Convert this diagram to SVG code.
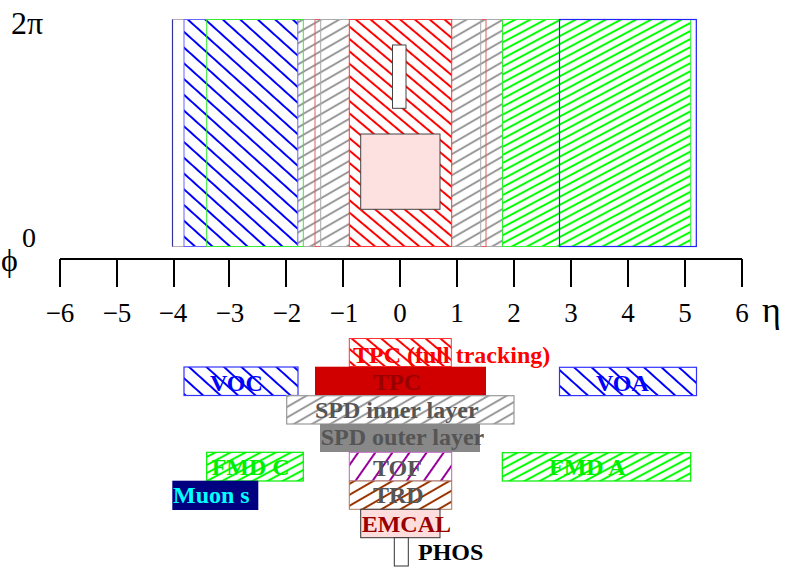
<svg xmlns="http://www.w3.org/2000/svg" width="789" height="568" viewBox="0 0 789 568">
<style>
text{font-family:"Liberation Serif","Times New Roman",serif}
.lbl{font-weight:bold;font-size:24px}
.tick{font-size:27px;text-anchor:middle}
.ax{stroke:#000;stroke-width:2;fill:none}
.wh{fill:#fff}
</style>
<defs>
<pattern id="hBlue" width="20" height="11.7" patternUnits="userSpaceOnUse" patternTransform="rotate(42)"><line x1="-1" y1="5.85" x2="21" y2="5.85" stroke="#0000ff" stroke-width="2"/></pattern>
<pattern id="hRed" width="20" height="9.5" patternUnits="userSpaceOnUse" patternTransform="rotate(40)"><line x1="-1" y1="4.75" x2="21" y2="4.75" stroke="#ff0000" stroke-width="2"/></pattern>
<pattern id="hGray" width="20" height="9.1" patternUnits="userSpaceOnUse" patternTransform="rotate(-30)"><line x1="-1" y1="4.55" x2="21" y2="4.55" stroke="#999999" stroke-width="2"/></pattern>
<pattern id="hGreen" width="20" height="7.1" patternUnits="userSpaceOnUse" patternTransform="rotate(-28)"><line x1="-1" y1="3.55" x2="21" y2="3.55" stroke="#00ff00" stroke-width="2"/></pattern>
<pattern id="hPurple" width="20" height="14" patternUnits="userSpaceOnUse" patternTransform="rotate(-55)"><line x1="-1" y1="7" x2="21" y2="7" stroke="#990099" stroke-width="2"/></pattern>
<pattern id="hBrown" width="20" height="9.5" patternUnits="userSpaceOnUse" patternTransform="rotate(-30)"><line x1="-1" y1="4.75" x2="21" y2="4.75" stroke="#993300" stroke-width="2"/></pattern>
</defs>

<g id="acceptance-map">
<rect x="172.5" y="19.5" width="524" height="227" fill="none" stroke="#b8aab8" stroke-width="1"/>
<line x1="172.5" y1="19.5" x2="172.5" y2="246.5" stroke="#333399" stroke-width="1.2"/>
<g id="map-spd-inner"><rect x="286.5" y="19.5" width="227.5" height="227" class="wh"/><rect x="286.5" y="19.5" width="227.5" height="227" fill="url(#hGray)" stroke="#aaaaaa" stroke-width="1"/></g>
<g id="map-tpc"><rect x="315" y="19.5" width="171" height="227" fill="none" stroke="#e06060" stroke-width="1"/></g>
<g id="map-spd-outer"><rect x="320.7" y="19.5" width="160" height="227" fill="none" stroke="#aaaaaa" stroke-width="1"/></g>
<g id="map-tpc-full"><rect x="349.3" y="19.5" width="102.4" height="227" class="wh"/><rect x="349.3" y="19.5" width="102.4" height="227" fill="url(#hRed)" stroke="#ff3333" stroke-width="1"/></g>
<g id="map-voc"><rect x="184" y="19.5" width="113.8" height="227" class="wh"/><rect x="184" y="19.5" width="113.8" height="227" fill="url(#hBlue)" stroke="#6666ff" stroke-width="1"/></g>
<g id="map-fmdc"><rect x="206.7" y="19.5" width="96.6" height="227" fill="none" stroke="#33ee33" stroke-width="1"/></g>
<g id="map-fmda"><rect x="502.5" y="19.5" width="188.2" height="227" class="wh"/><rect x="502.5" y="19.5" width="188.2" height="227" fill="url(#hGreen)" stroke="#33ee33" stroke-width="1"/></g>
<g id="map-voa"><rect x="559.5" y="19.5" width="136.8" height="227" fill="none" stroke="#2222ff" stroke-width="1.2"/></g>
<g id="map-emcal"><rect x="360.7" y="134" width="79.3" height="75.3" fill="#fde0e0" stroke="#444" stroke-width="1"/></g>
<g id="map-phos"><rect x="392.5" y="45" width="13.5" height="63.3" fill="#fff" stroke="#444" stroke-width="1"/></g>
</g>

<g id="axis-labels">
<text x="11" y="34" style="font-size:32px">2π</text>
<text x="22" y="247" style="font-size:28px">0</text>
<text x="1" y="271" style="font-size:32px">ϕ</text>
<text x="762" y="322" style="font-size:36px">η</text>
</g>

<g id="connectors">
<path class="ax" d="M60,259H742M60,259V287M117,259V287M174,259V287M229,259V287M286,259V287M343,259V287M400,259V287M457,259V287M514,259V287M571,259V287M628,259V287M685,259V287M742,259V287"/>
</g>
<g id="tick-labels">
<text class="tick" x="60" y="322">−6</text>
<text class="tick" x="117" y="322">−5</text>
<text class="tick" x="173" y="322">−4</text>
<text class="tick" x="230" y="322">−3</text>
<text class="tick" x="287" y="322">−2</text>
<text class="tick" x="344" y="322">−1</text>
<text class="tick" x="400" y="322">0</text>
<text class="tick" x="457" y="322">1</text>
<text class="tick" x="514" y="322">2</text>
<text class="tick" x="571" y="322">3</text>
<text class="tick" x="628" y="322">4</text>
<text class="tick" x="685" y="322">5</text>
<text class="tick" x="742" y="322">6</text>
</g>

<g id="tpc-full-tracking"><rect x="349.3" y="338.5" width="102" height="28" class="wh"/><rect x="349.3" y="338.5" width="102" height="28" fill="url(#hRed)" stroke="#ff3333" stroke-width="1"/><text class="lbl" x="353" y="363" fill="#ff0000">TPC (full tracking)</text></g>
<g id="tpc"><rect x="315" y="366.7" width="171" height="28.5" fill="#d00000"/><text class="lbl" x="373" y="389.5" fill="#990000">TPC</text></g>
<g id="voc"><rect x="184" y="367" width="114" height="28.5" class="wh"/><rect x="184" y="367" width="114" height="28.5" fill="url(#hBlue)" stroke="#3333ff" stroke-width="1.2"/><text class="lbl" x="210" y="390.5" fill="#0000ff">VOC</text></g>
<g id="voa"><rect x="559.5" y="367.3" width="137" height="28.3" class="wh"/><rect x="559.5" y="367.3" width="137" height="28.3" fill="url(#hBlue)" stroke="#3333ff" stroke-width="1.2"/><text class="lbl" x="596" y="390.5" fill="#0000ff">VOA</text></g>
<g id="spd-inner"><rect x="286.7" y="395.7" width="227.3" height="28.3" class="wh"/><rect x="286.7" y="395.7" width="227.3" height="28.3" fill="url(#hGray)" stroke="#999999" stroke-width="1.2"/><text class="lbl" x="315" y="417.5" fill="#555555">SPD inner layer</text></g>
<g id="spd-outer"><rect x="320" y="424" width="160" height="28" fill="#888888"/><text class="lbl" x="320.7" y="445" fill="#555555">SPD outer layer</text></g>
<g id="fmd-c"><rect x="206.7" y="452.3" width="96.6" height="28.7" class="wh"/><rect x="206.7" y="452.3" width="96.6" height="28.7" fill="url(#hGreen)" stroke="#00ee00" stroke-width="1.2"/><text class="lbl" x="211.7" y="475" fill="#00ee00">FMD C</text></g>
<g id="fmd-a"><rect x="502.3" y="452.7" width="188.4" height="28.3" class="wh"/><rect x="502.3" y="452.7" width="188.4" height="28.3" fill="url(#hGreen)" stroke="#00ee00" stroke-width="1.2"/><text class="lbl" x="549" y="475" fill="#00ee00">FMD A</text></g>
<g id="tof"><rect x="349.3" y="452.3" width="102.4" height="28.7" class="wh"/><rect x="349.3" y="452.3" width="102.4" height="28.7" fill="url(#hPurple)" stroke="#bb66bb" stroke-width="1"/><text class="lbl" x="373" y="476" fill="#555555">TOF</text></g>
<g id="trd"><rect x="349.3" y="481" width="102.4" height="28.3" class="wh"/><rect x="349.3" y="481" width="102.4" height="28.3" fill="url(#hBrown)" stroke="#aa7755" stroke-width="1"/><text class="lbl" x="373" y="503" fill="#555555">TRD</text></g>
<g id="muon"><rect x="172.3" y="480.7" width="86" height="29.3" fill="#000080"/><text class="lbl" x="173" y="503.3" fill="#00ffff">Muon s</text></g>
<g id="emcal"><rect x="360.7" y="509.3" width="79.3" height="28.4" fill="#ffdddd" stroke="#333" stroke-width="1"/><text class="lbl" x="361.7" y="531.7" fill="#990000">EMCAL</text></g>
<g id="phos"><rect x="394.3" y="537.7" width="14" height="28.3" fill="#fff" stroke="#333" stroke-width="1"/><text class="lbl" x="418" y="560" fill="#000000">PHOS</text></g>
</svg>
